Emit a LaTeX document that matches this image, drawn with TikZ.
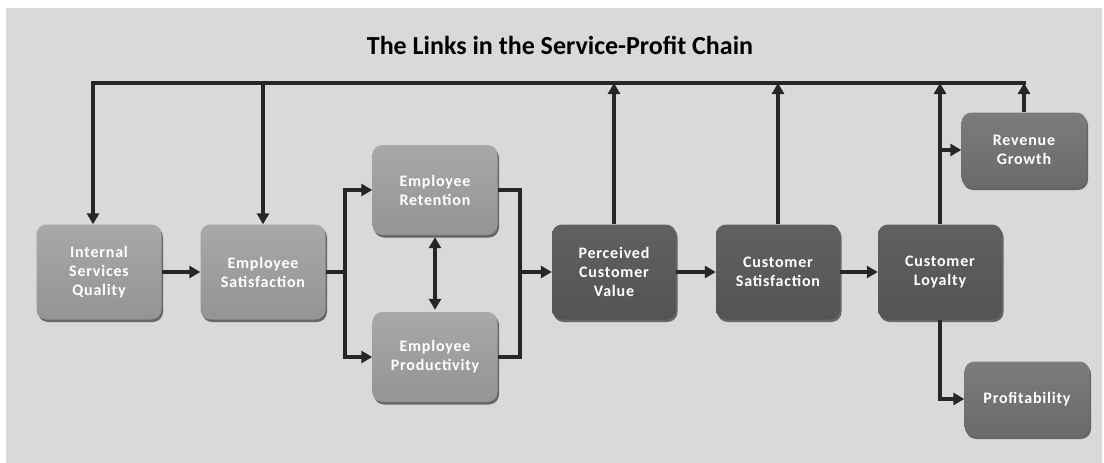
\documentclass[tikz,border=0pt]{standalone}
\usepackage{fontspec}
\setmainfont{Carlito}
\newfontfamily\boxfont[LetterSpace=5]{Carlito}
\usepackage{xcolor}
\definecolor{panel}{RGB}{217, 217, 217}
\definecolor{linkcol}{RGB}{38, 38, 38}
\definecolor{lighttop}{RGB}{168, 168, 168}
\definecolor{lightbot}{RGB}{148, 148, 148}
\definecolor{darktop}{RGB}{96, 96, 96}
\definecolor{darkbot}{RGB}{84, 84, 84}
\definecolor{midtop}{RGB}{124, 124, 124}
\definecolor{midbot}{RGB}{106, 106, 106}
\usetikzlibrary{arrows.meta,shadows}

\tikzset{
  box/.style={rounded corners=10pt, align=center, text=white,
    font=\boxfont\fontsize{16}{19}\selectfont\bfseries,
    drop shadow={shadow xshift=1.5pt, shadow yshift=-2.5pt,
      fill=black!60, opacity=1}},
  lightbox/.style={box, top color=lighttop, bottom color=lightbot,
    minimum width=125pt, minimum height=95pt},
  darkbox/.style={box, top color=darktop, bottom color=darkbot,
    minimum width=124pt, minimum height=95pt},
  midbox/.style={box, top color=midtop, bottom color=midbot,
    minimum width=125pt, minimum height=75pt},
  link/.style={line width=4pt, draw=linkcol,
    -{Triangle[length=11pt,width=12pt]}},
  bare/.style={line width=4pt, draw=linkcol}
}

\begin{document}
\begin{tikzpicture}[x=1pt,y=-1pt]
\useasboundingbox (0,0) rectangle (1104,463);
\fill [panel] (6,8) rectangle (1102,463);

\node (title) at (560,45)
  {\fontsize{26}{30}\selectfont\bfseries The Links in the Service-Profit Chain};

% the chain of boxes
\node [lightbox] (isq) at (99,272) {Internal\\Services\\Quality};
\node [lightbox] (es) at (263,272) {Employee\\Satisfaction};
\node [lightbox, minimum height=90pt] (er) at (435,190) {Employee\\Retention};
\node [lightbox, minimum height=90pt] (ep) at (435,357) {Employee\\Productivity};
\node [darkbox] (pcv) at (614,272) {Perceived\\Customer\\Value};
\node [darkbox] (cs) at (778,272) {Customer\\Satisfaction};
\node [darkbox] (cl) at (940,272) {Customer\\Loyalty};
\node [midbox] (rg) at (1024,150) {Revenue\\Growth};
\node [midbox] (prof) at (1027,399) {Profitability};

\coordinate (split) at (345,272);
\coordinate (merge) at (520,272);
\coordinate (topl) at (93,83);
\coordinate (topr) at (rg.north |- topl);

% connectors
\draw [link] (isq) -- (es);
\draw [bare] (es.east) -- (split);
\draw [link] (split) |- (er.west);
\draw [link] (split) |- (ep.west);
\draw [link, {Triangle[length=11pt,width=12pt]}-{Triangle[length=11pt,width=12pt]},
  shorten <=2pt, shorten >=2pt] (er) -- (ep);
\draw [bare] (er.east) -| (merge);
\draw [bare] (ep.east) -| (merge);
\draw [link] (merge) -- (pcv.west);
\draw [link] (pcv) -- (cs);
\draw [link] (cs) -- (cl);

% feedback along the top
\draw [bare, line cap=rect] (topl) -- (topr);
\draw [link] (topl) -- (topl |- isq.north);
\draw [link] (es.north |- topl) -- (es.north);
\draw [link] (pcv.north) -- (pcv.north |- topl);
\draw [link] (cs.north) -- (cs.north |- topl);
\draw [link] (cl.north) -- (cl.north |- topl);
\draw [link] (rg.north) -- (topr);
\draw [link] (cl.north |- rg.west) -- (rg.west);
\draw [link] (cl.south) |- (prof.west);
\end{tikzpicture}
\end{document}
